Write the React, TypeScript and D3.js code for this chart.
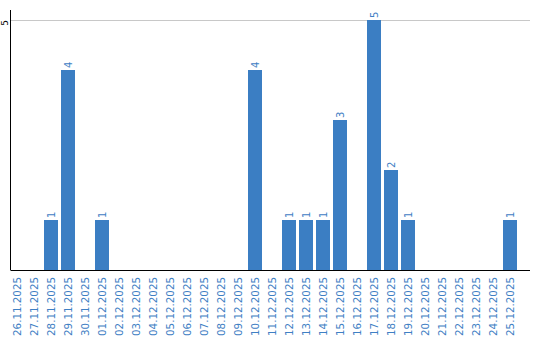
import React from "react";
import * as d3 from "d3";

const categories = [
  "26.11.2025","27.11.2025","28.11.2025","29.11.2025","30.11.2025","01.12.2025",
  "02.12.2025","03.12.2025","04.12.2025","05.12.2025","06.12.2025","07.12.2025",
  "08.12.2025","09.12.2025","10.12.2025","11.12.2025","12.12.2025","13.12.2025",
  "14.12.2025","15.12.2025","16.12.2025","17.12.2025","18.12.2025","19.12.2025",
  "20.12.2025","21.12.2025","22.12.2025","23.12.2025","24.12.2025","25.12.2025",
];
const values = [0,0,1,4,0,1,0,0,0,0,0,0,0,0,4,0,1,1,1,3,0,5,2,1,0,0,0,0,0,1];
const yTicks = [5];

const W = 540, H = 340;
const left = 10.5, right = 530, top = 20, bottom = 270;
const BAR = "#3b7ec3";
const TXT = "#3f80c4";
const FONT = "DejaVu Sans, Verdana, sans-serif";

export default function App() {
  const x = d3.scaleBand<string>().domain(categories).range([10, 517]).paddingInner(3 / 17).paddingOuter(0);
  const y = d3.scaleLinear().domain([0, 5]).range([bottom, top]);
  return (
    <svg width={W} height={H} style={{ position: "absolute", left: 0, top: 0, display: "block" }}>
      {yTicks.map((t) => (
        <g key={t}>
          <line x1={left} x2={right} y1={y(t) + 0.5} y2={y(t) + 0.5} stroke="#c8c8c8" />
          <text transform={`translate(5,${y(t) + 3}) rotate(-90)`} textAnchor="middle" dy="0.35em" fontFamily={FONT} fontSize={9} fill="#000">{t}</text>
        </g>
      ))}
      {categories.map((c, i) => {
        const v = values[i];
        const bx = x(c)!;
        const cx = bx + x.bandwidth() / 2;
        return (
          <g key={c}>
            {v > 0 && <rect x={bx} y={y(v)} width={x.bandwidth()} height={bottom - y(v)} fill={BAR} />}
            {v > 0 && (
              <text transform={`translate(${cx},${y(v) - 2}) rotate(-90)`} textAnchor="start" dy="0.35em" fontFamily={FONT} fontSize={10} fill={TXT}>{v}</text>
            )}
            <text transform={`translate(${cx},277) rotate(-90)`} textAnchor="end" dy="0.35em" fontFamily={FONT} fontSize={10.3} fill={TXT}>{c}</text>
          </g>
        );
      })}
      <line x1={left} x2={left} y1={10} y2={bottom} stroke="#000" />
      <line x1={left} x2={right} y1={bottom + 0.5} y2={bottom + 0.5} stroke="#000" />
    </svg>
  );
}
